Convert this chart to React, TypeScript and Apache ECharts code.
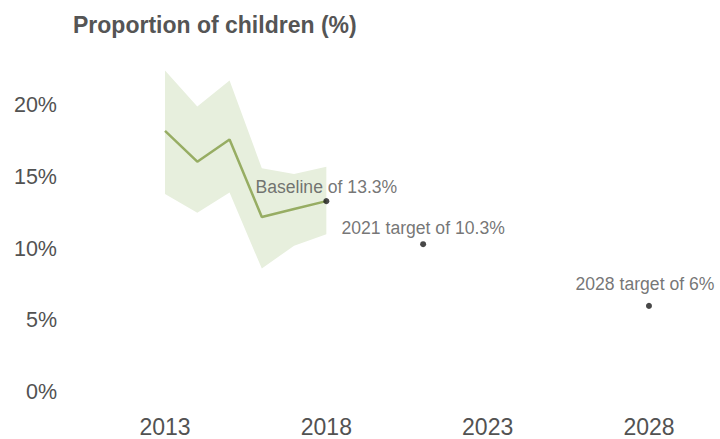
import React, { useEffect, useRef } from "react";
import * as echarts from "echarts";

const title = "Proportion of children (%)";
const years = [2013, 2014, 2015, 2016, 2017, 2018];
const values = [18.2, 16.05, 17.6, 12.2, 12.75, 13.3];
const upper = [22.4, 19.9, 21.7, 15.6, 15.2, 15.7];
const lower = [13.8, 12.5, 13.9, 8.6, 10.2, 11.0];
const pointYears = [2018, 2021, 2028];
const pointValues = [13.3, 10.3, 6];
const pointLabels = ["Baseline of 13.3%", "2021 target of 10.3%", "2028 target of 6%"];
const xTicks = [2013, 2018, 2023, 2028];
const yTicks = [0, 5, 10, 15, 20];

const FONT = "'Liberation Sans', Arial, Helvetica, sans-serif";
const TEXT = "#525252";

export default function App() {
  const ref = useRef<HTMLDivElement>(null);
  useEffect(() => {
    if (!ref.current) return;
    const chart = echarts.init(ref.current, undefined, { renderer: "svg" });
    const labelCfg = [
      { distance: 2, offset: [0, 0] },
      { distance: 4, offset: [0, 0] },
      { distance: 10, offset: [-4, 0] },
    ];
    chart.setOption({
      animation: false,
      backgroundColor: "#ffffff",
      title: {
        text: title,
        left: 68,
        top: 8,
        textStyle: { fontFamily: FONT, fontSize: 23, fontWeight: "bold", color: "#555555" },
      },
      grid: { left: 100.5, right: 6.5, top: 47.6, bottom: 47 },
      xAxis: {
        type: "value",
        min: 2011,
        max: 2030,
        splitLine: { show: false },
        axisLine: { show: false },
        axisTick: { show: false },
        axisLabel: {
          customValues: xTicks,
          margin: 23,
          fontFamily: FONT,
          fontSize: 23,
          color: TEXT,
          formatter: (v: number) => String(v),
        },
      },
      yAxis: {
        type: "value",
        min: 0,
        max: 24,
        splitLine: { show: false },
        axisLine: { show: false },
        axisTick: { show: false },
        axisLabel: {
          customValues: yTicks,
          margin: 43.5,
          fontFamily: FONT,
          fontSize: 21.5,
          color: TEXT,
          formatter: (v: number) => v + "%",
        },
      },
      series: [
        {
          type: "custom",
          silent: true,
          z: 1,
          data: [[years[0], upper[0]]],
          renderItem: (_params: any, api: any) => {
            const pts: number[][] = [];
            for (let i = 0; i < years.length; i++) pts.push(api.coord([years[i], upper[i]]));
            for (let i = years.length - 1; i >= 0; i--) pts.push(api.coord([years[i], lower[i]]));
            return {
              type: "polygon",
              shape: { points: pts },
              style: { fill: "#e7efdd", stroke: "none" },
            };
          },
        },
        {
          type: "line",
          z: 2,
          data: years.map((y, i) => [y, values[i]]),
          showSymbol: false,
          lineStyle: { color: "#97ad63", width: 2.5 },
          silent: true,
        },
        {
          type: "scatter",
          z: 3,
          symbolSize: 6,
          itemStyle: { color: "#1a1a1a" },
          data: pointYears.map((y, i) => ({
            value: [y, pointValues[i]],
            label: {
              show: true,
              position: "top",
              distance: labelCfg[i].distance,
              offset: labelCfg[i].offset,
              formatter: pointLabels[i],
              fontFamily: FONT,
              fontSize: 17.6,
              color: TEXT,
            },
          })),
        },
      ],
    });
    return () => chart.dispose();
  }, []);
  return <div ref={ref} style={{ width: 720, height: 439, position: "absolute", left: 0, top: 0 }} />;
}
